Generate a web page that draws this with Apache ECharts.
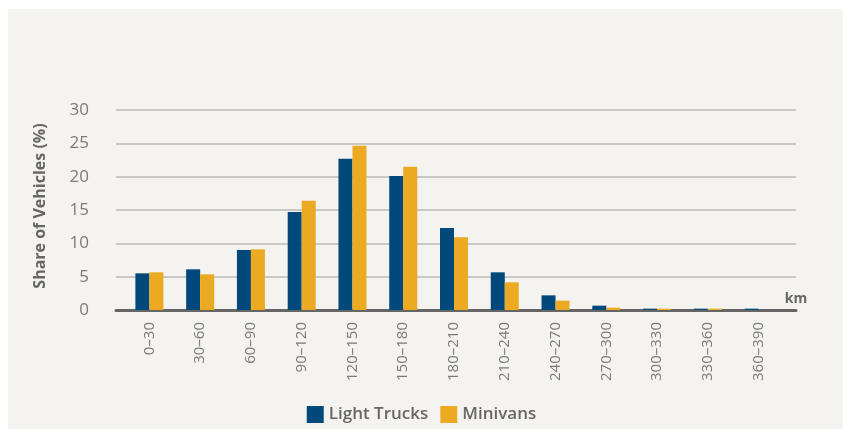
<!DOCTYPE html>
<html><head><meta charset="utf-8">
<script src="https://cdn.jsdelivr.net/npm/echarts@6/dist/echarts.min.js"></script>
<style>
html,body{margin:0;padding:0;background:#ffffff;}
#wrap{position:absolute;left:8px;top:9px;width:835px;height:420px;background:#f4f3ef;}
#chart{position:absolute;left:0;top:0;width:843px;height:429px;}
</style></head>
<body>
<div id="wrap"></div>
<div id="chart"></div>
<script>
const categories = ['0–30','30–60','60–90','90–120','120–150','150–180','180–210','210–240','240–270','270–300','300–330','330–360','360–390'];
const lightTrucks = [5.5, 6.1, 9.0, 14.7, 22.7, 20.1, 12.3, 5.65, 2.2, 0.65, 0.2, 0.2, 0.2];
const minivans    = [5.65, 5.35, 9.1, 16.4, 24.65, 21.5, 10.9, 4.15, 1.4, 0.35, 0.2, 0.2, 0];
const yTicks = {min: 0, max: 30, interval: 5};

const FONT = '"Open Sans", Lato, sans-serif';
const chart = echarts.init(document.getElementById('chart'), null, {renderer: 'canvas'});
chart.setOption({
  backgroundColor: 'transparent',
  textStyle: {fontFamily: FONT},
  animation: false,
  legend: {
    top: 401, left: 'center',
    itemWidth: 17, itemHeight: 17, itemGap: 12,
    icon: 'rect',
    textStyle: {fontSize: 17, color: '#666666', fontWeight: 600, fontFamily: FONT},
    data: ['Light Trucks', 'Minivans']
  },
  grid: [
    {left: 116, right: 47, top: 110, height: 200},
    {left: 124, right: 59, top: 110, height: 200}
  ],
  xAxis: [
    {gridIndex: 0, type: 'value', min: 0, max: 1,
     axisLine: {show: true, onZero: false, lineStyle: {color: '#666666', width: 3}},
     axisTick: {show: false}, axisLabel: {show: false}, splitLine: {show: false},
     name: 'km', nameLocation: 'end', nameGap: 0,
     nameTextStyle: {color: '#666666', fontSize: 14, fontWeight: 'bold', align: 'center', verticalAlign: 'bottom', padding: [0, 0, 4, 0], fontFamily: FONT}
    },
    {gridIndex: 1, type: 'category', data: categories,
     axisLine: {show: false}, axisTick: {show: false},
     axisLabel: {rotate: 90, margin: 12, fontSize: 15, color: '#7a7a7a', fontFamily: FONT, interval: 0}
    }
  ],
  yAxis: [
    {gridIndex: 0, type: 'value', min: yTicks.min, max: yTicks.max, interval: yTicks.interval,
     axisLine: {show: false}, axisTick: {show: false},
     axisLabel: {fontSize: 17, color: '#7a7a7a', margin: 27, fontFamily: FONT},
     splitLine: {show: true, lineStyle: {color: '#c9c8c6', width: 2}},
     name: 'Share of Vehicles (%)', nameLocation: 'middle', nameGap: 68,
     nameTextStyle: {color: '#666666', fontSize: 16, fontWeight: 'bold', fontFamily: FONT, padding: [0, 0, 0, 8]}
    },
    {gridIndex: 1, type: 'value', min: yTicks.min, max: yTicks.max, interval: yTicks.interval,
     show: false, splitLine: {show: false}}
  ],
  series: [
    {name: 'Light Trucks', type: 'bar', xAxisIndex: 1, yAxisIndex: 1, data: lightTrucks,
     barWidth: 14, barGap: '0%', itemStyle: {color: '#00497a'}, z: 1},
    {name: 'Minivans', type: 'bar', xAxisIndex: 1, yAxisIndex: 1, data: minivans,
     barWidth: 14, barGap: '0%', itemStyle: {color: '#ecaa22'}, z: 1}
  ]
});
</script>
</body></html>
